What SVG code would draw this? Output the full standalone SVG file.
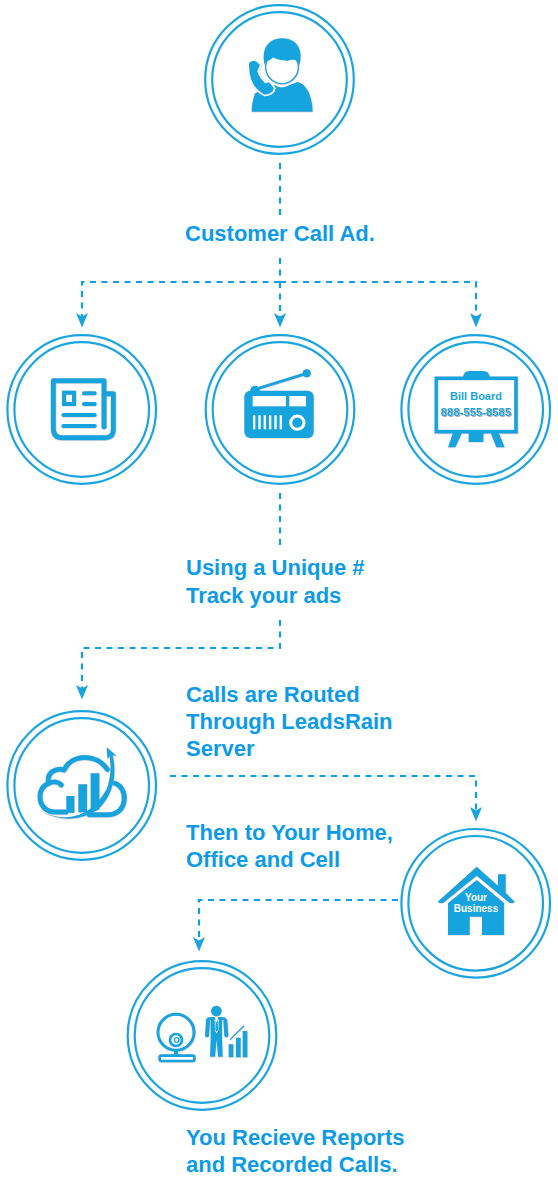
<svg xmlns="http://www.w3.org/2000/svg" width="558" height="1181" viewBox="0 0 558 1181">
<style>
.ring{fill:#fff;stroke:#1ba5e0;stroke-width:2.200}
.ic{fill:#18a4df}
.ln{fill:none;stroke:#18a4df;stroke-linecap:round;stroke-linejoin:round}
.wh{fill:#fff}
.t{font-family:"Liberation Sans",Arial,sans-serif;font-weight:700;font-size:22px;fill:#0c9be8}
.s{font-family:"Liberation Sans",Arial,sans-serif;font-weight:700;text-anchor:middle}
.c{fill:none;stroke:#0f9de6;stroke-width:2.200;stroke-dasharray:6 5.500}
</style>
<defs>
<filter id="sh" x="-10%" y="-10%" width="125%" height="125%"><feDropShadow dx="1" dy="1" stdDeviation="0.5" flood-color="#999" flood-opacity="0.75"/></filter>
<marker id="ahd" markerUnits="userSpaceOnUse" markerWidth="16" markerHeight="14" viewBox="0 0 16 14" refX="5" refY="7" orient="auto"><path d="M0 1 L3.500 7 L0 13 L14.500 7Z" fill="#18a4df"/></marker>
</defs>
<rect width="558" height="1181" fill="#fff"/>
<g id="connectors">
<path class="c" d="M280 163V215"/>
<path class="c" d="M280 258V282"/>
<path class="c" d="M280 282H82V318" marker-end="url(#ahd)"/>
<path class="c" d="M280 282V318" marker-end="url(#ahd)"/>
<path class="c" d="M280 282H476V318" marker-end="url(#ahd)"/>
<path class="c" d="M280 493V548"/>
<path class="c" d="M280 620V648H82V690" marker-end="url(#ahd)"/>
<path class="c" d="M170 776H476V812" marker-end="url(#ahd)"/>
<path class="c" d="M398 900H199V942" marker-end="url(#ahd)"/>
</g>
<g id="node-customer">
<circle class="ring" cx="279.500" cy="79.500" r="74.300"/><circle class="ring" cx="279.500" cy="79.500" r="67.300"/>
<g transform="translate(200,0) scale(.3333)" filter="url(#sh)">
<path class="ic" d="M155 335C155 318 158 300 165 280L222 255Q243 268 262 258L292 246C322 252 338 295 338 335Z"/>
<path class="wh" stroke="#fff" stroke-width="10" d="M147 192Q150 180 168 184L180 194L172 214Q178 234 196 250L207 247L222 265Q218 282 195 284Q146 262 147 192Z"/>
<path class="ic" d="M147 192Q150 180 168 184L180 194L172 214Q178 234 196 250L207 247L222 265Q218 282 195 284Q146 262 147 192Z"/>
<ellipse cx="246" cy="201" rx="49" ry="50" class="wh" stroke="#18a4df" stroke-width="4"/>
<path class="ic" d="M194 195C182 140 210 115 247 115C288 115 312 148 298 195L291 186C285 176 272 180 262 183C245 180 228 180 220 172C212 180 204 184 198 186Z"/>
</g>
</g>
<g id="node-newspaper">
<circle class="ring" cx="81.700" cy="409.500" r="74.300"/><circle class="ring" cx="81.700" cy="409.500" r="67.300"/>
<g transform="translate(0,330) scale(.3333)" filter="url(#sh)">
<path class="ln" stroke-width="15" d="M312 290V152H160V296Q160 323 187 323H318Q340 323 340 298V191H316"/>
<rect x="192" y="188" width="30" height="34" fill="none" stroke="#18a4df" stroke-width="12"/>
<path class="ln" stroke-width="12" d="M252 190H284M252 222H284M190 255H284M190 288H284"/>
</g>
</g>
<g id="node-radio">
<circle class="ring" cx="280" cy="409.500" r="74.300"/><circle class="ring" cx="280" cy="409.500" r="67.300"/>
<g transform="translate(200,330) scale(.3333)" filter="url(#sh)">
<path class="ln" stroke-width="9" d="M165 178L320 130"/>
<circle class="ic" cx="320" cy="130" r="12"/><circle class="ic" cx="165" cy="181" r="14"/>
<rect class="ic" x="133" y="182" width="208" height="142" rx="18"/>
<rect class="wh" x="158" y="198" width="100" height="31"/><rect class="wh" x="268" y="198" width="50" height="31"/>
<path class="wh" d="M159 256h7v42h-7zM175 256h7v42h-7zM191 256h7v42h-7zM207 256h7v42h-7zM223 256h7v42h-7zM239 256h7v42h-7z"/>
<circle cx="292" cy="278" r="20" fill="#18a4df" stroke="#fff" stroke-width="9"/>
</g>
</g>
<g id="node-billboard">
<circle class="ring" cx="475.700" cy="409.500" r="74.300"/><circle class="ring" cx="475.700" cy="409.500" r="67.300"/>
<g transform="translate(398,330) scale(.3333)" filter="url(#sh)">
<path class="ic" d="M195 145Q195 123 215 123H255Q275 123 275 145Z"/>
<rect x="115" y="145" width="239" height="160" fill="#fff" stroke="#18a4df" stroke-width="11"/>
<path class="ic" d="M165 308H192L172 352H150ZM278 308H302L320 352H295ZM212 308H256V336H212Z"/>
</g>
<text class="s" x="476" y="400" font-size="11" fill="#18a4df">Bill Board</text>
<text class="s" x="476" y="416" font-size="11.300" fill="#18a4df" filter="url(#sh)">888-555-8585</text>
</g>
<g id="node-server">
<circle class="ring" cx="81.700" cy="785.500" r="74.300"/><circle class="ring" cx="81.700" cy="785.500" r="67.300"/>
<g transform="translate(0,706) scale(.3333)" filter="url(#sh)">
<path class="ln" stroke-width="15" d="M184 237C165 216 120 233 120 272C120 302 142 318 165 318H198"/>
<path class="ln" stroke-width="15" d="M146 232C138 198 170 184 192 192C215 142 290 142 322 190"/>
<path class="ln" stroke-width="15" d="M345 232C385 245 385 325 325 326H268"/>
<path class="ic" d="M199 270h24v50h-24zM235 235h26v84h-26zM272 202h26v108l-26 12z"/>
<path class="ic" d="M125 318Q250 370 320 250Q338 200 328 146L338 146Q358 240 302 302Q225 365 125 318Z"/>
<path class="ic" d="M320 124L350 150L333 146L322 158Z"/>
</g>
</g>
<g id="node-business">
<circle class="ring" cx="475.700" cy="903.300" r="74.300"/><circle class="ring" cx="475.700" cy="903.300" r="67.300"/>
<g transform="translate(398,825) scale(.3333)" filter="url(#sh)">
<path class="ic" d="M119 230L236 125L300 182V148H323V203L350 230L345 234H335L236 152L135 234H125Z"/>
<path class="ic" d="M150 234L236 165L318 234V330H252V275H215V330H150Z"/>
</g>
<text class="s" x="476" y="901" font-size="10" fill="#fff">Your</text>
<text class="s" x="476" y="911.500" font-size="10" fill="#fff">Business</text>
</g>
<g id="node-reports">
<circle class="ring" cx="202" cy="1035.500" r="74.300"/><circle class="ring" cx="202" cy="1035.500" r="67.300"/>
<g transform="translate(122,956) scale(.3333)" filter="url(#sh)">
<circle cx="162" cy="229" r="54" fill="#fff" stroke="#18a4df" stroke-width="9"/>
<circle cx="162" cy="252" r="18" fill="#fff" stroke="#18a4df" stroke-width="8"/>
<circle cx="164" cy="252" r="7" fill="#fff" stroke="#18a4df" stroke-width="4"/>
<path class="ic" d="M156 284h12v16h-12z"/>
<rect x="113" y="299" width="104" height="16" rx="5" fill="#fff" stroke="#18a4df" stroke-width="8"/>
<circle class="ic" cx="283" cy="165" r="16"/>
<path class="ln" stroke-width="12" d="M258 195L255 238M310 195L313 238"/>
<path class="ic" d="M266 183H300V250L302 302H288L284 250L279 302H264L266 250Z"/>
<path class="ic" d="M258 184H308L316 192H250Z"/>
<path class="wh" d="M278 183H289L284 200Z"/>
<path class="wh" d="M278 190L279 224L284 232L289 224L290 190L287 190L288 222L284 227L280 222L281 190Z"/>
<path class="ic" d="M320 265h14v39h-14zM342 245h14v59h-14zM362 225h14v79h-14z"/>
<path class="ln" stroke-width="3.500" d="M325 250L365 210"/>
</g>
</g>
<g id="labels">
<text class="t" x="185" y="241">Customer Call Ad.</text>
<text class="t" x="186" y="575">Using a Unique #</text>
<text class="t" x="186" y="603">Track your ads</text>
<text class="t" x="186" y="702">Calls are Routed</text>
<text class="t" x="186" y="729">Through LeadsRain</text>
<text class="t" x="186" y="756">Server</text>
<text class="t" x="186" y="840">Then to Your Home,</text>
<text class="t" x="186" y="867">Office and Cell</text>
<text class="t" x="186" y="1145">You Recieve Reports</text>
<text class="t" x="186" y="1172">and Recorded Calls.</text>
</g>
</svg>
